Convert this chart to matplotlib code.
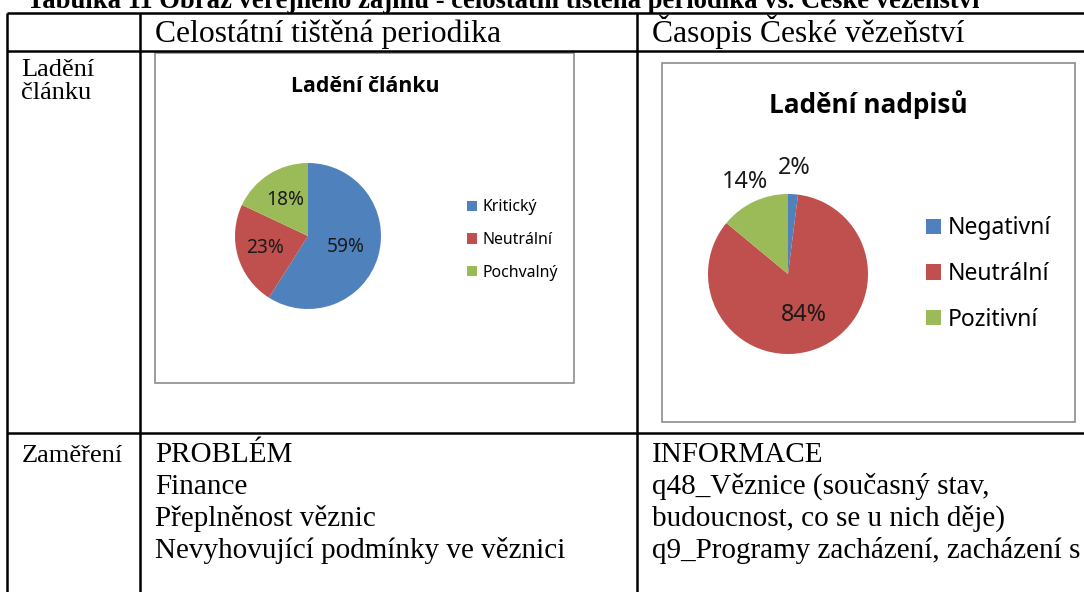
import numpy as np
import matplotlib
matplotlib.use("Agg")
import matplotlib.pyplot as plt
from matplotlib.patches import Rectangle

W, H = 1084, 592

# data
left_labels = ["Kritický", "Neutrální", "Pochvalný"]
left_values = [59, 23, 18]
right_labels = ["Negativní", "Neutrální", "Pozitivní"]
right_values = [2, 84, 14]
colors = ["#4F81BD", "#C0504D", "#9BBB59"]

table_title = "Tabulka 11 Obraz veřejného zájmu - celostátní tištěná periodika vs. České vězeňství"
col_headers = ["Celostátní tištěná periodika", "Časopis České vězeňství"]
row_headers = [["Ladění", "článku"], ["Zaměření"]]
left_body = ["PROBLÉM", "Finance", "Přeplněnost věznic", "Nevyhovující podmínky ve věznici"]
right_body = ["INFORMACE", "q48_Věznice (současný stav,", "budoucnost, co se u nich děje)",
              "q9_Programy zacházení, zacházení s"]

serif = "Liberation Serif"
sans = "Noto Sans"
sans_bold = "Open Sans"

fig = plt.figure(figsize=(W / 100, H / 100), dpi=100)
bg = fig.add_axes([0, 0, 1, 1])
bg.set_xlim(0, W)
bg.set_ylim(H, 0)
bg.axis("off")

# table grid
lw = 1.8
for y in [13, 51, 433]:
    bg.plot([7, W], [y, y], color="black", lw=lw, solid_capstyle="butt")
for x in [7, 140, 637]:
    bg.plot([x, x], [13, H], color="black", lw=lw, solid_capstyle="butt")

# table text (title is cut by the page edge in the original)
bg.text(27, 8, table_title, family=serif, weight="bold", fontsize=19.2, va="baseline")
bg.text(155, 42, col_headers[0], family=serif, fontsize=22.8, va="baseline")
bg.text(652, 42, col_headers[1], family=serif, fontsize=22.8, va="baseline")
for i, s in enumerate(row_headers[0]):
    bg.text(21, 76 + 23 * i, s, family=serif, fontsize=19, va="baseline")
bg.text(22, 462, row_headers[1][0], family=serif, fontsize=19, va="baseline")
for i, s in enumerate(left_body):
    bg.text(155, 462 + 32 * i, s, family=serif, fontsize=21, va="baseline")
for i, s in enumerate(right_body):
    bg.text(652, 462 + 32 * i, s, family=serif, fontsize=21, va="baseline")

# chart frames
bg.add_patch(Rectangle((155, 53), 419, 330, fill=False, edgecolor="#8c8c8c", lw=1.2))
bg.add_patch(Rectangle((662, 63), 413, 359, fill=False, edgecolor="#8c8c8c", lw=1.2))


def pie_chart(cx, cy, r, values, labels, dists, pct_size, title, title_xy, title_size,
              leg_xy, leg_size, leg_spacing):
    ax = fig.add_axes([(cx - r) / W, 1 - (cy + r) / H, 2 * r / W, 2 * r / H])
    wedges, _ = ax.pie(values, colors=colors, startangle=90, counterclock=False,
                       wedgeprops=dict(linewidth=0))
    ax.set_xlim(-1, 1)
    ax.set_ylim(-1, 1)
    for w, v, d in zip(wedges, values, dists):
        th = np.deg2rad((w.theta1 + w.theta2) / 2)
        ax.text(d * np.cos(th), d * np.sin(th), f"{v}%", ha="center", va="center",
                family=sans, fontsize=pct_size, color="#1a1a1a", clip_on=False)
    bg.text(title_xy[0], title_xy[1], title, ha="center", va="center", family=sans_bold,
            weight="bold", fontsize=title_size)
    fig.legend(wedges, labels, loc="center left", bbox_to_anchor=leg_xy,
               bbox_transform=bg.transData, frameon=False, borderpad=0, borderaxespad=0,
               handlelength=0.65, handleheight=0.65, handletextpad=0.3,
               labelspacing=leg_spacing, prop=dict(family=sans, size=leg_size))


pie_chart(308, 236, 73, left_values, left_labels, [0.54, 0.61, 0.58], 13.8,
          "Ladění článku", (365, 86), 15.3, (467, 240), 11.4, 1.05)
pie_chart(788, 274, 80, right_values, right_labels, [1.33, 0.55, 1.27], 16.8,
          "Ladění nadpisů", (868, 105), 18.8, (926, 274), 16.5, 0.95)

plt.savefig("out.png", dpi=100)
